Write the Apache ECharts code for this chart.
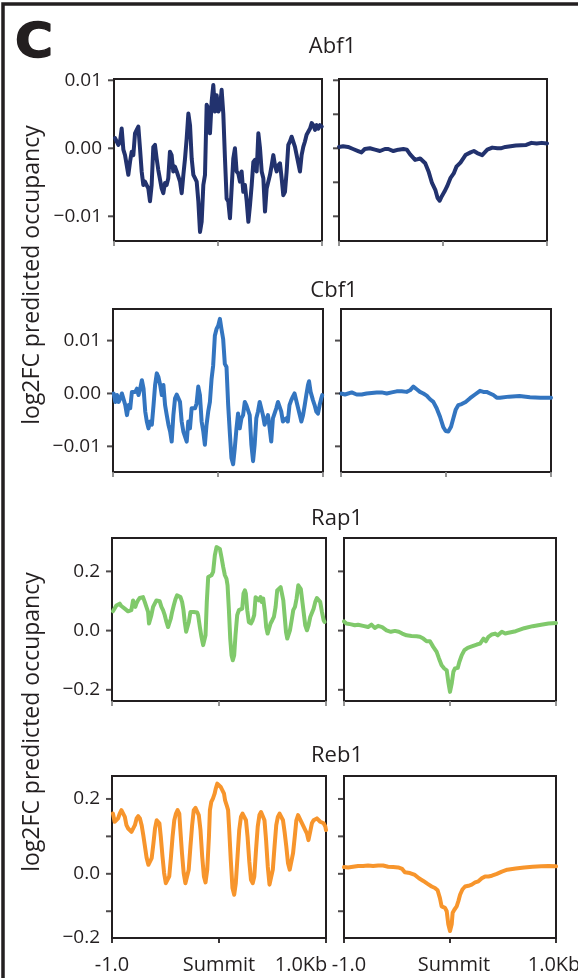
<!DOCTYPE html>
<html>
<head>
<meta charset="utf-8">
<script src="https://cdn.jsdelivr.net/npm/echarts@6/dist/echarts.min.js"></script>
<style>
  html, body { margin: 0; padding: 0; background: #fff; }
  #chart { width: 578px; height: 978px; }
</style>
</head>
<body>
<div id="chart"></div>
<script>
// data: [distance from summit (bp), log2FC predicted occupancy]
var abf1Left = [[-990,0.0015],[-974,0.0017],[-958,0.0005],[-942,0.0010],[-926,0.0029],[-910,-0.0002],[-894,-0.0010],[-878,-0.0012],[-862,-0.0039],[-846,-0.0020],[-830,-0.0005],[-814,-0.0010],[-798,0.0022],[-782,0.0027],[-766,0.0032],[-750,0.0000],[-734,-0.0034],[-718,-0.0054],[-702,-0.0049],[-686,-0.0054],[-670,-0.0059],[-654,-0.0078],[-638,-0.0054],[-622,0.0002],[-606,0.0005],[-590,-0.0015],[-574,-0.0032],[-558,-0.0034],[-542,-0.0059],[-526,-0.0066],[-510,-0.0051],[-494,-0.0054],[-478,-0.0044],[-462,-0.0005],[-446,-0.0010],[-430,-0.0034],[-414,-0.0027],[-397,-0.0034],[-381,-0.0034],[-365,-0.0049],[-349,-0.0066],[-333,-0.0039],[-317,-0.0015],[-301,0.0015],[-285,0.0051],[-269,0.0034],[-253,-0.0015],[-237,-0.0039],[-221,-0.0044],[-205,-0.0049],[-189,-0.0078],[-173,-0.0123],[-157,-0.0108],[-141,-0.0054],[-125,-0.0039],[-109,0.0064],[-93,0.0059],[-77,0.0022],[-61,0.0069],[-45,0.0093],[-29,0.0054],[-13,0.0078],[3,0.0054],[19,0.0059],[35,0.0086],[51,0.0051],[67,-0.0015],[83,-0.0074],[99,-0.0078],[115,-0.0103],[131,-0.0059],[147,-0.0015],[163,0.0000],[179,-0.0034],[195,-0.0037],[211,-0.0049],[227,-0.0034],[243,-0.0064],[259,-0.0054],[276,-0.0078],[292,-0.0108],[308,-0.0083],[324,-0.0054],[340,-0.0020],[356,-0.0017],[372,-0.0034],[388,0.0022],[404,0.0000],[420,-0.0034],[436,-0.0044],[452,-0.0093],[468,-0.0059],[484,-0.0059],[500,-0.0039],[516,-0.0025],[532,-0.0010],[548,-0.0025],[564,-0.0034],[580,-0.0025],[596,-0.0022],[612,-0.0044],[628,-0.0069],[644,-0.0064],[660,-0.0034],[676,0.0005],[692,0.0010],[708,0.0017],[724,0.0015],[740,0.0002],[788,-0.0034],[804,-0.0010],[820,0.0002],[836,0.0010],[852,0.0020],[868,0.0022],[885,0.0029],[901,0.0037],[917,0.0034],[933,0.0027],[949,0.0034],[965,0.0029],[981,0.0034],[997,0.0032]];
var abf1Right = [[-1000,0.0002],[-961,0.0003],[-913,0.0002],[-865,-0.0001],[-816,-0.0004],[-784,-0.0006],[-752,-0.0001],[-703,0.0000],[-655,-0.0002],[-606,-0.0004],[-558,-0.0001],[-526,-0.0001],[-477,-0.0004],[-429,-0.0002],[-381,-0.0001],[-348,-0.0002],[-316,-0.0009],[-268,-0.0017],[-219,-0.0015],[-171,-0.0022],[-139,-0.0034],[-106,-0.0051],[-74,-0.0061],[-52,-0.0073],[-32,-0.0077],[-10,-0.0070],[13,-0.0064],[39,-0.0056],[71,-0.0044],[103,-0.0037],[129,-0.0027],[168,-0.0021],[216,-0.0010],[265,-0.0006],[297,-0.0004],[329,-0.0007],[377,-0.0010],[426,-0.0002],[474,0.0001],[523,0.0000],[555,0.0000],[600,0.0002],[700,0.0004],[800,0.0005],[850,0.0008],[900,0.0007],[950,0.0008],[1000,0.0007]];
var cbf1Left = [[-994,0.0000],[-978,-0.0016],[-962,-0.0003],[-946,-0.0016],[-930,-0.0009],[-915,0.0000],[-899,0.0003],[-883,-0.0022],[-867,-0.0041],[-851,-0.0022],[-836,-0.0028],[-820,0.0003],[-804,0.0006],[-788,0.0003],[-772,0.0009],[-757,-0.0003],[-741,0.0009],[-725,0.0025],[-709,0.0009],[-693,-0.0034],[-678,-0.0053],[-662,-0.0066],[-646,-0.0053],[-630,-0.0059],[-614,-0.0022],[-599,0.0016],[-583,0.0038],[-567,0.0031],[-551,0.0016],[-535,-0.0003],[-520,0.0016],[-504,-0.0022],[-488,-0.0041],[-472,-0.0059],[-456,-0.0072],[-441,-0.0091],[-425,-0.0041],[-409,-0.0009],[-393,-0.0002],[-377,-0.0003],[-362,-0.0016],[-346,-0.0053],[-330,-0.0072],[-314,-0.0072],[-298,-0.0091],[-283,-0.0053],[-267,-0.0066],[-251,-0.0028],[-235,-0.0025],[-219,-0.0028],[-204,-0.0019],[-188,0.0013],[-172,-0.0003],[-156,-0.0053],[-140,-0.0072],[-125,-0.0097],[-109,-0.0059],[-93,-0.0034],[-77,-0.0016],[-61,0.0028],[-46,0.0053],[-30,0.0109],[-14,0.0122],[2,0.0128],[18,0.0141],[33,0.0122],[49,0.0103],[65,0.0056],[81,0.0050],[97,-0.0022],[112,-0.0072],[128,-0.0122],[144,-0.0134],[160,-0.0103],[176,-0.0066],[191,-0.0038],[207,-0.0066],[223,-0.0047],[239,-0.0041],[255,-0.0016],[270,-0.0022],[286,-0.0019],[302,-0.0041],[318,-0.0097],[334,-0.0128],[349,-0.0097],[365,-0.0047],[381,-0.0034],[397,-0.0016],[413,-0.0016],[428,-0.0041],[444,-0.0059],[460,-0.0050],[476,-0.0041],[492,-0.0066],[507,-0.0091],[523,-0.0047],[539,-0.0047],[555,-0.0028],[571,-0.0016],[586,-0.0019],[602,-0.0034],[618,-0.0053],[634,-0.0050],[650,-0.0047],[665,-0.0053],[681,-0.0022],[697,-0.0013],[713,-0.0006],[729,0.0000],[794,-0.0053],[810,-0.0041],[826,-0.0022],[841,-0.0003],[857,0.0016],[867,0.0023],[882,0.0003],[905,-0.0013],[920,-0.0022],[936,-0.0034],[952,-0.0038],[968,-0.0022],[984,-0.0009],[993,-0.0003]];
var cbf1Right = [[-1000,0.0000],[-962,-0.0002],[-898,0.0002],[-851,-0.0002],[-803,-0.0002],[-756,0.0000],[-708,0.0001],[-660,0.0002],[-613,0.0002],[-565,0.0000],[-517,0.0002],[-470,0.0004],[-422,0.0004],[-375,0.0003],[-343,0.0006],[-311,0.0013],[-279,0.0008],[-248,0.0003],[-216,0.0000],[-184,-0.0004],[-152,-0.0011],[-121,-0.0016],[-89,-0.0028],[-57,-0.0044],[-25,-0.0064],[-3,-0.0071],[22,-0.0072],[48,-0.0063],[70,-0.0047],[92,-0.0031],[118,-0.0022],[149,-0.0020],[187,-0.0016],[229,-0.0009],[276,-0.0002],[324,0.0005],[356,0.0003],[387,0.0003],[419,0.0000],[451,-0.0003],[483,-0.0008],[514,-0.0008],[600,-0.0006],[700,-0.0005],[800,-0.0007],[900,-0.0008],[1000,-0.0008]];
var rap1Left = [[-991,0.065],[-975,0.069],[-959,0.085],[-944,0.088],[-928,0.091],[-913,0.083],[-897,0.080],[-881,0.074],[-866,0.069],[-850,0.065],[-835,0.063],[-819,0.069],[-803,0.102],[-794,0.108],[-782,0.080],[-772,0.091],[-757,0.102],[-741,0.110],[-725,0.113],[-710,0.113],[-694,0.097],[-679,0.091],[-663,0.063],[-654,0.024],[-641,0.018],[-632,0.052],[-616,0.080],[-601,0.085],[-585,0.102],[-569,0.108],[-554,0.099],[-538,0.080],[-523,0.069],[-507,0.052],[-491,0.029],[-476,0.012],[-466,0.012],[-451,0.040],[-438,0.063],[-423,0.085],[-407,0.106],[-392,0.119],[-376,0.121],[-360,0.113],[-345,0.097],[-332,0.069],[-320,0.029],[-307,-0.004],[-295,-0.004],[-282,0.029],[-267,0.063],[-251,0.069],[-236,0.063],[-220,0.063],[-204,0.061],[-195,0.052],[-179,0.012],[-164,-0.021],[-148,-0.049],[-139,-0.055],[-126,-0.016],[-114,0.097],[-101,0.181],[-86,0.187],[-70,0.187],[-55,0.198],[-39,0.254],[-23,0.282],[-8,0.288],[8,0.276],[23,0.248],[39,0.215],[55,0.187],[70,0.175],[80,0.153],[92,0.074],[105,-0.027],[117,-0.083],[129,-0.100],[142,-0.083],[154,-0.016],[170,0.052],[186,0.069],[201,0.063],[217,0.074],[229,0.125],[242,0.136],[251,0.125],[264,0.069],[279,0.029],[298,0.024],[314,0.035],[329,0.052],[342,0.113],[357,0.119],[373,0.102],[388,0.113],[398,0.097],[413,0.108],[429,0.063],[441,0.012],[454,-0.010],[466,-0.004],[482,0.024],[498,0.035],[513,0.046],[529,0.080],[544,0.136],[560,0.139],[576,0.147],[588,0.142],[601,0.102],[613,0.052],[626,-0.004],[638,-0.027],[651,-0.021],[663,0.001],[679,0.035],[694,0.069],[710,0.080],[725,0.108],[741,0.153],[765,0.140],[806,0.018],[822,0.001],[837,0.018],[853,0.046],[868,0.052],[884,0.074],[900,0.097],[915,0.110],[931,0.110],[946,0.097],[962,0.063],[978,0.035],[987,0.029]];
var rap1Right = [[-1000,0.031],[-978,0.024],[-931,0.021],[-899,0.018],[-867,0.020],[-820,0.016],[-773,0.012],[-741,0.020],[-710,0.009],[-678,0.016],[-640,0.012],[-599,0.001],[-558,-0.004],[-520,-0.001],[-483,-0.004],[-451,-0.010],[-410,-0.016],[-363,-0.018],[-315,-0.019],[-284,-0.021],[-252,-0.027],[-221,-0.036],[-189,-0.036],[-158,-0.055],[-126,-0.072],[-104,-0.094],[-79,-0.117],[-54,-0.128],[-31,-0.134],[-16,-0.173],[0,-0.207],[16,-0.179],[32,-0.139],[47,-0.128],[73,-0.126],[88,-0.106],[111,-0.083],[136,-0.066],[167,-0.058],[205,-0.053],[253,-0.047],[284,-0.044],[316,-0.027],[338,-0.036],[363,-0.021],[395,-0.013],[426,-0.010],[451,-0.016],[489,-0.004],[521,-0.010],[540,-0.008],[620,-0.002],[700,0.008],[780,0.015],[860,0.020],[930,0.024],[1000,0.026]];
var reb1Left = [[-991,0.161],[-975,0.139],[-959,0.135],[-943,0.148],[-928,0.161],[-912,0.170],[-896,0.168],[-880,0.152],[-865,0.130],[-849,0.121],[-833,0.117],[-818,0.112],[-802,0.117],[-786,0.130],[-770,0.148],[-755,0.154],[-739,0.148],[-723,0.130],[-708,0.104],[-692,0.073],[-676,0.042],[-660,0.024],[-645,0.024],[-629,0.042],[-613,0.081],[-598,0.121],[-582,0.143],[-566,0.148],[-557,0.135],[-544,0.099],[-528,0.046],[-513,0.002],[-497,-0.025],[-481,-0.029],[-465,-0.007],[-450,0.042],[-434,0.099],[-418,0.143],[-402,0.161],[-387,0.170],[-371,0.161],[-362,0.121],[-346,0.055],[-330,0.002],[-314,-0.025],[-299,-0.029],[-283,0.011],[-267,0.073],[-251,0.130],[-236,0.170],[-220,0.176],[-204,0.174],[-189,0.157],[-173,0.117],[-157,0.046],[-141,-0.007],[-126,-0.023],[-110,0.011],[-94,0.099],[-85,0.170],[-72,0.192],[-57,0.201],[-41,0.214],[-31,0.227],[-16,0.241],[0,0.238],[16,0.232],[32,0.223],[47,0.214],[57,0.196],[72,0.183],[85,0.170],[94,0.126],[110,0.037],[126,-0.038],[142,-0.056],[157,-0.025],[173,0.046],[189,0.117],[205,0.152],[220,0.161],[236,0.157],[252,0.143],[267,0.099],[283,0.033],[299,-0.016],[315,-0.025],[330,-0.007],[346,0.064],[362,0.126],[378,0.157],[393,0.165],[409,0.161],[425,0.143],[440,0.090],[456,0.019],[472,-0.029],[488,-0.034],[503,0.011],[519,0.073],[535,0.130],[550,0.152],[566,0.161],[582,0.157],[598,0.143],[613,0.112],[629,0.073],[645,0.028],[661,0.011],[676,0.015],[692,0.055],[708,0.099],[723,0.143],[739,0.157],[755,0.161],[821,0.108],[836,0.090],[852,0.112],[868,0.135],[884,0.143],[899,0.148],[915,0.148],[931,0.143],[946,0.139],[962,0.139],[978,0.135],[994,0.126],[1000,0.117]];
var reb1Right = [[-1000,0.018],[-962,0.017],[-915,0.019],[-867,0.021],[-820,0.021],[-773,0.022],[-726,0.021],[-678,0.022],[-631,0.022],[-584,0.019],[-536,0.018],[-489,0.017],[-451,0.013],[-426,0.004],[-378,0.002],[-331,-0.003],[-293,-0.012],[-252,-0.019],[-211,-0.027],[-173,-0.034],[-142,-0.038],[-117,-0.044],[-95,-0.065],[-79,-0.087],[-63,-0.091],[-47,-0.091],[-31,-0.100],[-16,-0.135],[0,-0.153],[16,-0.135],[25,-0.104],[41,-0.096],[63,-0.087],[79,-0.073],[95,-0.056],[117,-0.042],[142,-0.034],[174,-0.032],[205,-0.029],[237,-0.023],[268,-0.020],[300,-0.012],[331,-0.007],[363,-0.007],[395,-0.005],[442,0.000],[489,0.006],[540,0.011],[620,0.014],[700,0.017],[780,0.019],[860,0.020],[930,0.021],[1000,0.020]];

var factors = ['Abf1', 'Cbf1', 'Rap1', 'Reb1'];
var xTickLabels = ['-1.0', 'Summit', '1.0Kb'];
var yTickLabels = [[-0.01, 0, 0.01], [-0.01, 0, 0.01], [-0.2, 0, 0.2], [-0.2, 0, 0.2]];
var rightTicks = [[-0.01, -0.005, 0, 0.005, 0.01], [-0.01, 0, 0.01], [-0.2, 0, 0.2], [-0.1, 0, 0.1, 0.2]];
var leftTicks = [[-0.01, 0, 0.01], [-0.01, 0, 0.01], [-0.2, 0, 0.2], [-0.1, 0, 0.1, 0.2]];

// layout
var colors = ['#22326e', '#3375c0', '#80c96b', '#f7952c'];
var rowTop = [79, 309, 538, 776];
var rowBottom = [241, 472, 701, 938];
var leftL = [114, 113, 112, 112], leftR = [322, 323, 326, 326];
var rightL = [339, 341, 344, 344], rightR = [547, 551, 556, 556];
var yMin = [-0.01363, -0.01485, -0.2378, -0.1715];
var yMax = [0.01019, 0.01597, 0.3128, 0.2613];
var titleY = [47, 291, 519, 756];
var ink = '#231f20';
var font = '"Open Sans", "Noto Sans", sans-serif';
// horizontal nudges of the bottom labels [left panel, right panel] -> rich padding
var xLabelPad = [[[0, 0, 0, 0], [0, 0, 0, 0], [0, 50, 0, 0]],
                 [[0, 0, 0, 10], [0, 0, 0, 8], [0, 4, 0, 0]]];

var leftSeries = [abf1Left, cbf1Left, rap1Left, reb1Left];
var rightSeries = [abf1Right, cbf1Right, rap1Right, reb1Right];

var grids = [], xAxes = [], yAxes = [], series = [], texts = [];

function fmtY(decimals) {
  return function (v) { return v.toFixed(decimals).replace('-', '\u2212'); };
}

for (var r = 0; r < 4; r++) {
  for (var side = 0; side < 2; side++) {
    var idx = grids.length;
    var l = side === 0 ? leftL[r] : rightL[r];
    var rr = side === 0 ? leftR[r] : rightR[r];
    grids.push({
      left: l, top: rowTop[r], width: rr - l, height: rowBottom[r] - rowTop[r],
      show: true, borderColor: ink, borderWidth: 2, backgroundColor: 'transparent',
      containLabel: false, outerBoundsMode: 'none'
    });
    var lastRow = r === 3;
    var rich = {};
    xLabelPad[side].forEach(function (p, i) {
      rich['t' + i] = { padding: p, fontSize: 20, color: ink, fontFamily: font };
    });
    xAxes.push({
      type: 'value', gridIndex: idx, min: -1000, max: 1000, interval: 1000,
      position: 'bottom',
      axisLine: { show: false, onZero: false }, splitLine: { show: false },
      axisTick: { show: true, length: 5, lineStyle: { color: lastRow ? ink : '#8a8a8a', width: 1.8 } },
      axisLabel: {
        show: lastRow, margin: 17, fontSize: 20, color: ink, fontFamily: font, rich: rich,
        formatter: function (v) {
          var i = Math.round((v + 1000) / 1000);
          return '{t' + i + '|' + xTickLabels[i] + '}';
        }
      }
    });
    var labelVals = yTickLabels[r].slice();
    if (r === 3) labelVals[0] = yMin[3];
    yAxes.push({
      type: 'value', gridIndex: idx, min: yMin[r], max: yMax[r], position: 'left',
      axisLine: { show: false, onZero: false }, splitLine: { show: false },
      axisTick: { show: false },
      axisLabel: {
        show: side === 0, interval: 0, customValues: labelVals, margin: 12,
        fontSize: 19, color: ink, fontFamily: font,
        formatter: fmtY(r < 2 ? 2 : 1)
      }
    });
    series.push({
      type: 'line', xAxisIndex: idx, yAxisIndex: idx,
      data: side === 0 ? leftSeries[r] : rightSeries[r],
      showSymbol: false, silent: true, animation: false,
      lineStyle: { color: colors[r], width: 4, join: 'round', cap: 'round' },
      itemStyle: { color: colors[r] }
    });
    // y tick marks, placed on the left edge of the panel through the axis scales
    series.push({
      type: 'scatter', xAxisIndex: idx, yAxisIndex: idx, clip: false, silent: true,
      data: (side === 0 ? leftTicks[r] : rightTicks[r]).map(function (v) { return [-1000, v]; }),
      symbol: 'rect', symbolSize: [5, 2], symbolOffset: [-3.5, 0],
      itemStyle: { color: ink }, z: 3
    });
  }
  texts.push({
    type: 'text', silent: true,
    style: { text: factors[r], x: (leftR[r] + rightL[r]) / 2 + 2, y: titleY[r],
             font: '22px ' + font, fill: ink,
             textAlign: 'center', textVerticalAlign: 'middle', align: 'center', verticalAlign: 'middle' }
  });
}

var yName = 'log2FC predicted occupancy';
[275, 722].forEach(function (cy) {
  texts.push({
    type: 'text', silent: true, x: 32, y: cy, rotation: Math.PI / 2,
    style: { text: yName, x: 0, y: 0, font: '23px ' + font, fill: ink,
             textAlign: 'center', textVerticalAlign: 'middle', align: 'center', verticalAlign: 'middle' }
  });
});

// panel letter and frame
texts.push({
  type: 'text', silent: true, x: 15, y: 69, scaleX: 1.08,
  style: { text: 'C', x: 0, y: 0, font: '900 48px "DejaVu Sans", sans-serif', fill: ink,
           stroke: ink, lineWidth: 1.5,
           textAlign: 'left', textVerticalAlign: 'bottom', align: 'left', verticalAlign: 'bottom' }
});
texts.push({
  type: 'polyline', silent: true,
  shape: { points: [[3, 978], [3, 4], [578, 4]] },
  style: { stroke: ink, lineWidth: 3.5, fill: null }
});

var chart = echarts.init(document.getElementById('chart'), null, { renderer: 'canvas' });
chart.setOption({
  animation: false,
  backgroundColor: '#fff',
  grid: grids,
  xAxis: xAxes,
  yAxis: yAxes,
  series: series,
  graphic: texts
});
</script>
</body>
</html>
